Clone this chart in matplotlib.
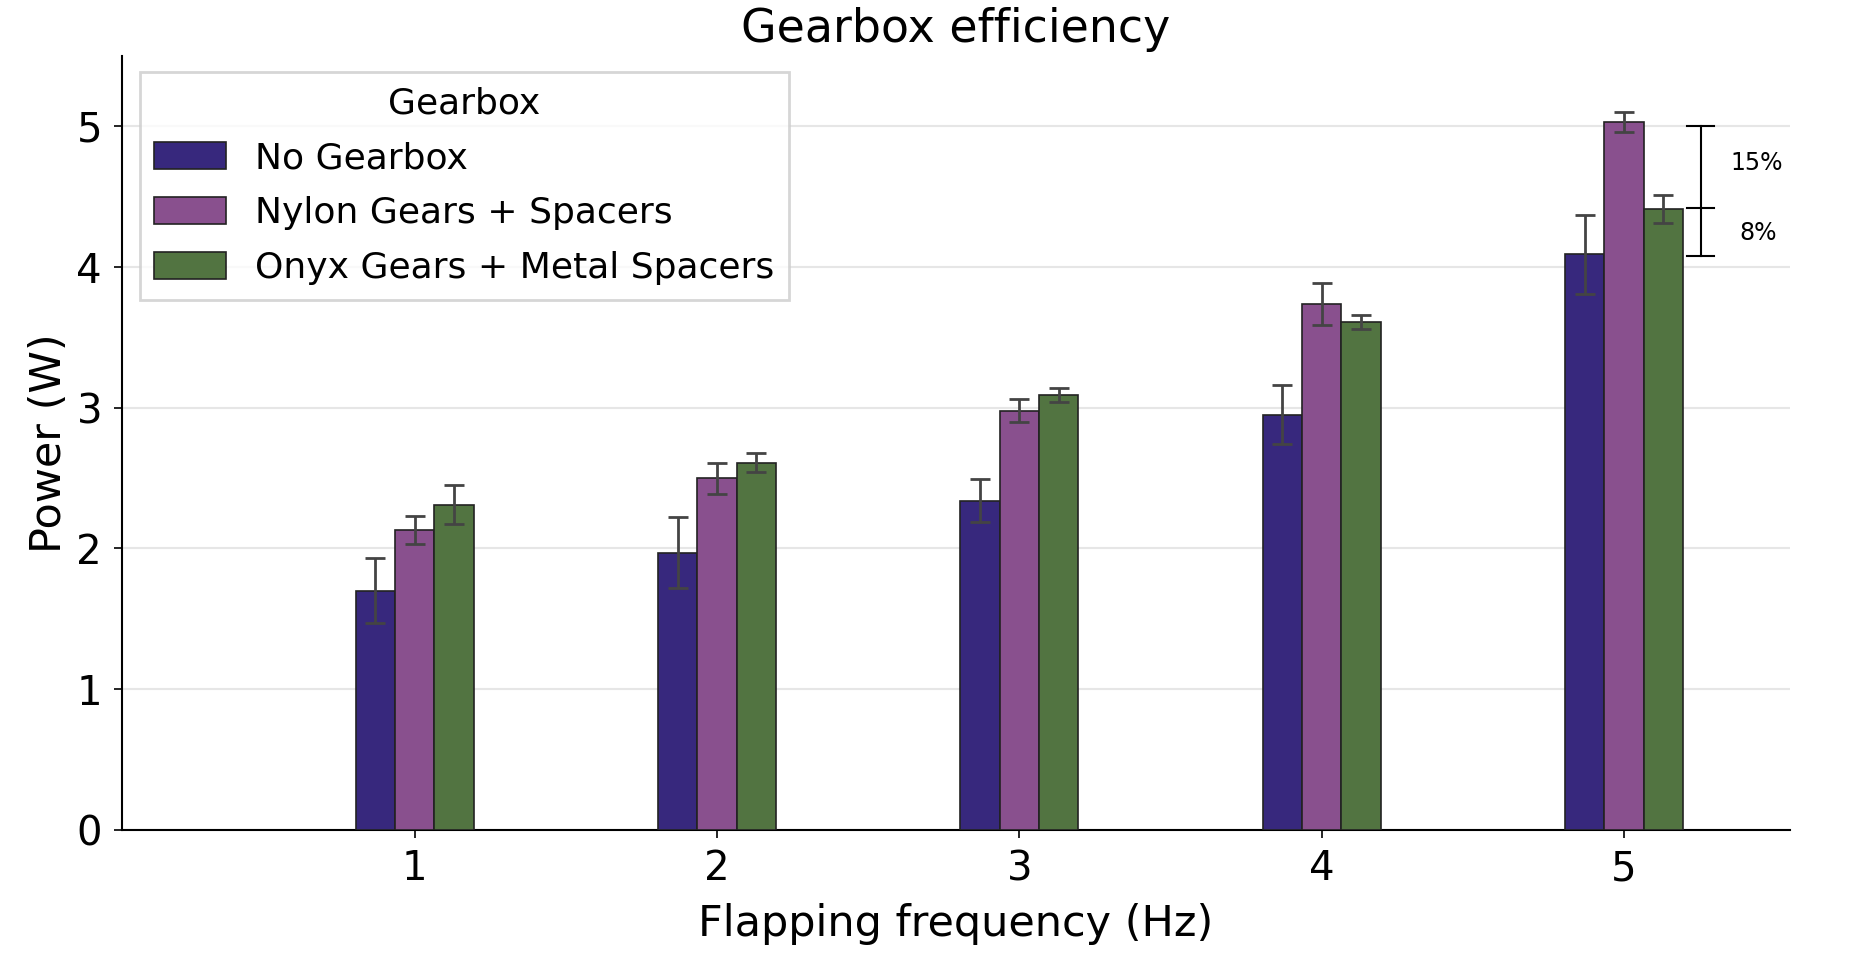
import numpy as np
import matplotlib.pyplot as plt

# flapping frequencies (Hz)
freqs = np.array([1, 2, 3, 4, 5])

labels = ["No Gearbox", "Nylon Gears + Spacers", "Onyx Gears + Metal Spacers"]
colors = ["#37287D", "#89508E", "#527441"]

# mean power (W) and std per gearbox
no_gear = [1.70, 1.97, 2.34, 2.95, 4.09]
no_gear_err = [0.23, 0.25, 0.15, 0.21, 0.28]
nylon = [2.13, 2.50, 2.98, 3.74, 5.03]
nylon_err = [0.10, 0.11, 0.08, 0.15, 0.07]
onyx = [2.31, 2.61, 3.09, 3.61, 4.41]
onyx_err = [0.14, 0.07, 0.05, 0.05, 0.10]

# efficiency bracket at 5 Hz
bracket_vals = [5.0, 4.42, 4.08]
bracket_text = ["15%", "8%"]

fig = plt.figure(figsize=(18.5, 9.67), dpi=100)
ax = fig.add_axes([0.0657, 0.142, 0.902, 0.80])

w = 0.13
series = [(no_gear, no_gear_err), (nylon, nylon_err), (onyx, onyx_err)]
for i, (vals, errs) in enumerate(series):
    ax.bar(freqs + (i - 1) * w, vals, w, yerr=errs, color=colors[i],
           edgecolor="#222222", linewidth=1.2, label=labels[i],
           error_kw=dict(ecolor="#444444", elinewidth=2, capsize=7, capthick=2),
           zorder=3)

# bracket showing savings
bx = 5.254
ax.plot([bx, bx], [bracket_vals[0], bracket_vals[2]], color="black", lw=1.5, zorder=4)
for v in bracket_vals:
    ax.plot([bx - 0.045, bx + 0.045], [v, v], color="black", lw=1.5, zorder=4)
ax.text(5.44, 4.74, bracket_text[0], fontsize=17, ha="center", va="center")
ax.text(5.445, 4.24, bracket_text[1], fontsize=17, ha="center", va="center")

ax.set_xlim(0.03, 5.55)
ax.set_ylim(0, 5.5)
ax.set_xticks(freqs)
ax.set_yticks([0, 1, 2, 3, 4, 5])
ax.tick_params(labelsize=29, length=6, width=1.2, pad=8)
ax.yaxis.grid(True, color="#e6e6e6", lw=1.5, zorder=0)
ax.spines["top"].set_visible(False)
ax.spines["right"].set_visible(False)
ax.spines["left"].set_linewidth(1.5)
ax.spines["bottom"].set_linewidth(1.5)

ax.set_title("Gearbox efficiency", fontsize=33, pad=10)
ax.set_xlabel("Flapping frequency (Hz)", fontsize=31, labelpad=10)
ax.set_ylabel("Power (W)", fontsize=31, labelpad=5)

leg = ax.legend(title="Gearbox", fontsize=26, title_fontsize=26, loc="upper left",
                bbox_to_anchor=(0.0, 1.003), frameon=True, fancybox=False,
                handlelength=2.0, handleheight=0.8, borderpad=0.4, labelspacing=0.58)
leg.get_frame().set_edgecolor("#cccccc")
leg.get_frame().set_linewidth(2)

fig.savefig("out.png", dpi=100)
